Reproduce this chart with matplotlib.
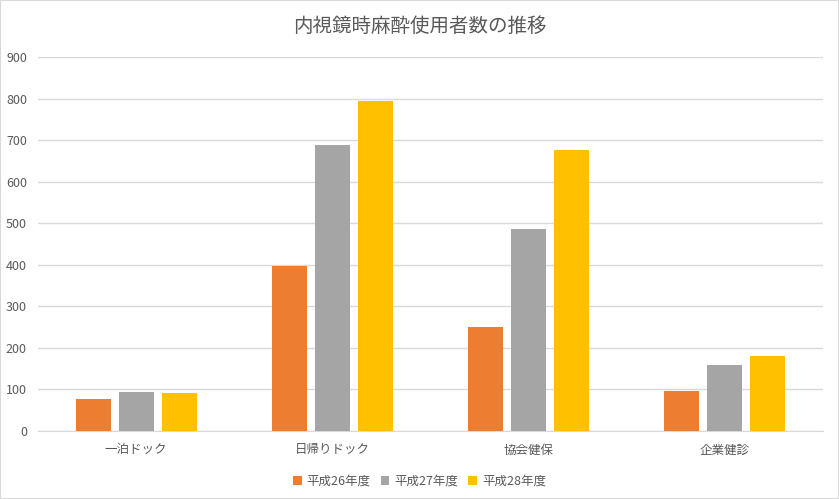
import matplotlib
matplotlib.use("Agg")
import matplotlib.pyplot as plt
import numpy as np
from matplotlib.patches import Rectangle

plt.rcParams['font.family'] = ['Noto Sans CJK JP', 'DejaVu Sans']

categories = ["一泊ドック", "日帰りドック", "協会健保", "企業健診"]
series_names = ["平成26年度", "平成27年度", "平成28年度"]
h26 = [76, 398, 250, 96]
h27 = [93, 689, 486, 159]
h28 = [91, 793, 677, 180]
colors = ["#ED7D31", "#A5A5A5", "#FFC000"]

fig = plt.figure(figsize=(8.39, 4.99), dpi=100)
fig.patches.append(Rectangle((0, 0), 1, 1, transform=fig.transFigure,
                             fill=False, edgecolor="#d9d9d9", linewidth=1.5))
ax = fig.add_axes([38 / 839, 1 - 431 / 499, (823 - 38) / 839, (431 - 57) / 499])

x = np.arange(len(categories))
width = 0.178
offset = 0.219
for i, (vals, name, c) in enumerate(zip([h26, h27, h28], series_names, colors)):
    ax.bar(x + (i - 1) * offset, vals, width, color=c, label=name, zorder=3)

ax.set_xlim(-0.5, len(categories) - 0.5)
ax.set_ylim(0, 900)
ax.set_yticks(np.arange(0, 901, 100))
ax.yaxis.grid(True, color="#d9d9d9", linewidth=1, zorder=0)
ax.set_xticks(x)
ax.set_xticklabels(categories)
for s in ["top", "right", "left"]:
    ax.spines[s].set_visible(False)
ax.spines["bottom"].set_color("#d9d9d9")
ax.tick_params(axis="both", length=0, colors="#595959", labelsize=9)
ax.tick_params(axis="x", pad=9)
ax.tick_params(axis="y", pad=8)

fig.suptitle("内視鏡時麻酔使用者数の推移", y=0.968, fontsize=14, color="#595959")

leg = fig.legend(loc="lower center", bbox_to_anchor=(0.5, 0.0), ncol=3,
                 frameon=False, fontsize=9, handlelength=0.7, handleheight=0.7,
                 handletextpad=0.4, columnspacing=0.8)
for t in leg.get_texts():
    t.set_color("#595959")

fig.savefig("out.png", dpi=100)
